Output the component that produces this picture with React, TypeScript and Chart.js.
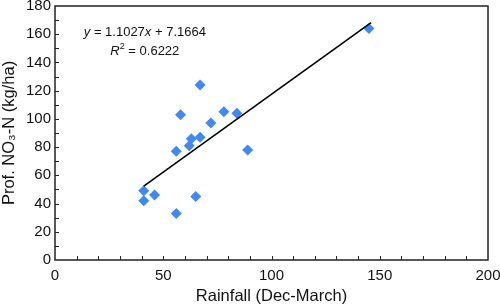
import React, { useEffect, useRef } from "react";
import { Chart, registerables } from "chart.js";

Chart.register(...registerables);

const rainfall = [67, 58, 78, 84, 72, 63, 67, 62, 56, 89, 41, 41, 46, 65, 56, 145];
const nitrate = [124, 103, 105, 104, 97, 86, 87, 81, 77, 78, 49, 42, 46, 45, 33, 164];
const trendRainfall = [41, 146];
const trendNitrate = [52.4, 168.2];
const xTitle = "Rainfall (Dec-March)";
const yTitle = "Prof. NO\u2083-N (kg/ha)";
const slopeText = "1.1027";
const interceptText = "7.1664";
const r2Text = "0.6222";

const FONT = '"Liberation Sans", Arial, Helvetica, sans-serif';

const framePlugin = {
  id: "frame",
  afterDraw(chart: any) {
    const { ctx, chartArea } = chart;
    const xs = chart.scales.x;
    const ys = chart.scales.y;
    ctx.save();
    ctx.strokeStyle = "#222";
    ctx.lineWidth = 1.5;
    ctx.strokeRect(chartArea.left, chartArea.top, chartArea.right - chartArea.left, chartArea.bottom - chartArea.top);
    ctx.lineWidth = 1;
    ctx.beginPath();
    for (let v = 10; v < 200; v += 10) {
      const px = Math.round(xs.getPixelForValue(v)) + 0.5;
      ctx.moveTo(px, chartArea.bottom);
      ctx.lineTo(px, chartArea.bottom - 4);
    }
    for (let v = 10; v < 180; v += 10) {
      const py = Math.round(ys.getPixelForValue(v)) + 0.5;
      ctx.moveTo(chartArea.left, py);
      ctx.lineTo(chartArea.left + 4, py);
    }
    ctx.stroke();

    // equation annotation
    const cx = xs.getPixelForValue(41.5);
    const y1 = ys.getPixelForValue(161);
    const y2 = ys.getPixelForValue(147.5);
    const normal = `13px ${FONT}`;
    const italic = `italic 13px ${FONT}`;
    const small = `9px ${FONT}`;
    ctx.fillStyle = "#111";
    ctx.textBaseline = "middle";
    ctx.textAlign = "left";
    const line1 = [
      { t: "y", f: italic },
      { t: " = " + slopeText, f: normal },
      { t: "x", f: italic },
      { t: " + " + interceptText, f: normal },
    ];
    const line2 = [
      { t: "R", f: italic, dy: 0 },
      { t: "2", f: small, dy: -5 },
      { t: " = " + r2Text, f: normal, dy: 0 },
    ];
    const drawLine = (segs: any[], y: number) => {
      let w = 0;
      segs.forEach((s) => {
        ctx.font = s.f;
        w += ctx.measureText(s.t).width;
      });
      let x = cx - w / 2;
      segs.forEach((s) => {
        ctx.font = s.f;
        ctx.fillText(s.t, x, y + (s.dy || 0));
        x += ctx.measureText(s.t).width;
      });
    };
    drawLine(line1, y1);
    drawLine(line2, y2);
    ctx.restore();
  },
};

export default function App() {
  const ref = useRef<HTMLCanvasElement | null>(null);
  useEffect(() => {
    if (!ref.current) return;
    const chart = new Chart(ref.current, {
      type: "scatter",
      data: {
        datasets: [
          {
            type: "line",
            data: trendRainfall.map((x, i) => ({ x, y: trendNitrate[i] })),
            borderColor: "#000",
            borderWidth: 1.6,
            pointRadius: 0,
            fill: false,
          } as any,
          {
            data: rainfall.map((x, i) => ({ x, y: nitrate[i] })),
            pointStyle: "rectRot",
            pointRadius: 5.5,
            backgroundColor: "#4189F0",
            borderColor: "#4189F0",
            borderWidth: 0,
          },
        ],
      },
      options: {
        animation: false,
        responsive: false,
        events: [],
        layout: { padding: { top: 6, right: 12, left: 0, bottom: 0 } },
        plugins: { legend: { display: false }, tooltip: { enabled: false } },
        scales: {
          x: {
            type: "linear",
            min: 0,
            max: 200,
            grid: { display: false, drawTicks: false },
            border: { display: false },
            ticks: { stepSize: 50, color: "#111", font: { family: FONT, size: 15 }, padding: 7, maxRotation: 0 },
            title: { display: true, text: xTitle, color: "#111", font: { family: FONT, size: 16.5 }, padding: { top: 6, bottom: 0 } },
            afterFit: (s: any) => {
              s.height = 46;
              s.paddingLeft = 0;
              s.paddingRight = 0;
            },
          },
          y: {
            type: "linear",
            min: 0,
            max: 180,
            grid: { display: false, drawTicks: false },
            border: { display: false },
            ticks: { stepSize: 20, color: "#111", font: { family: FONT, size: 15 }, padding: 4 },
            title: { display: true, text: yTitle, color: "#111", font: { family: FONT, size: 16.5 }, padding: { top: 0, bottom: 0 } },
            afterFit: (s: any) => {
              s.width = 55;
              s.paddingTop = 0;
              s.paddingBottom = 0;
            },
          },
        },
      } as any,
      plugins: [framePlugin],
    });
    return () => chart.destroy();
  }, []);
  return (
    <div style={{ position: "fixed", left: 0, top: 0, width: 500, height: 306, background: "#fff" }}>
      <canvas ref={ref} width={500} height={306} style={{ display: "block", width: 500, height: 306 }} />
    </div>
  );
}
